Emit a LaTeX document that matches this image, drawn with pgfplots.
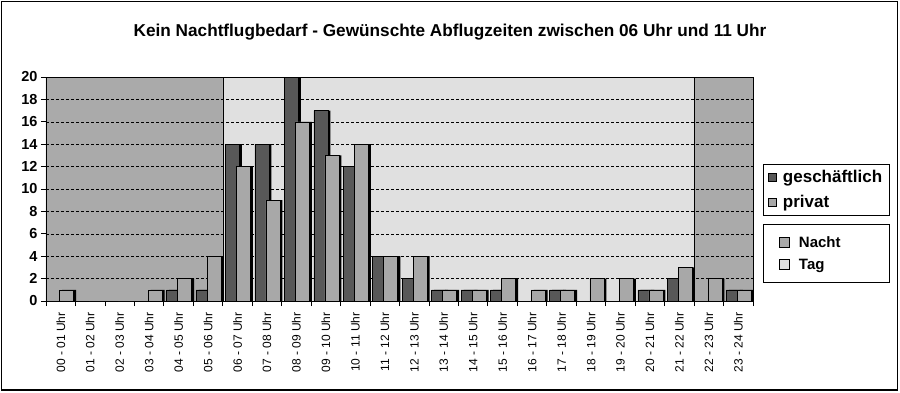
\documentclass[border=0pt]{standalone}
\usepackage{pgfplots}
\pgfplotsset{compat=1.18}
\usepackage{fontspec}
\setmainfont{Liberation Sans}
\definecolor{dbar}{RGB}{88,88,88}
\definecolor{lbar}{RGB}{168,168,168}
\definecolor{night}{RGB}{170,170,170}
\definecolor{day}{RGB}{224,224,224}
\pgfplotsset{
  base/.style={scale only axis, width=707pt, height=224pt,
    xmin=-0.5, xmax=23.5, ymin=0, ymax=20},
  sqimg/.style={legend image code/.code={\draw[##1,draw=black,line width=0.6pt] (0pt,-4pt) rectangle (8pt,4pt);}},
  sqimgb/.style={legend image code/.code={\draw[##1,draw=black,line width=0.6pt] (0pt,-5pt) rectangle (10pt,5pt);}},
}
\begin{document}
\begin{tikzpicture}[x=1pt,y=1pt]
\begin{axis}[base, hide axis,
  legend style={at={(1.0141,0.34375)}, anchor=north west, draw=black, line width=0.8pt,
    font=\bfseries\fontsize{15}{18}\selectfont, legend cell align=left,
    inner xsep=16pt, inner ysep=10pt, row sep=6pt,
    /tikz/every odd column/.append style={column sep=7pt},
    /tikz/every even column/.append style={text width=72pt}}]
\addplot[fill=night, draw=black, line width=0.5pt, sqimgb] coordinates {(-0.5,0) (-0.5,20) (5.5,20) (5.5,0)} \closedcycle;
\addlegendentry{Nacht}
\addplot[fill=day, draw=black, line width=0.5pt, sqimgb] coordinates {(5.5,0) (5.5,20) (21.5,20) (21.5,0)} \closedcycle;
\addlegendentry{Tag}
\addplot[fill=night, draw=black, line width=0.5pt, forget plot] coordinates {(21.5,0) (21.5,20) (23.5,20) (23.5,0)} \closedcycle;
\end{axis}
\begin{axis}[base, ybar, bar width=14pt,
  axis line style={black, line width=0.9pt},
  ymajorgrids, grid style={black, line width=0.5pt, dash pattern=on 3pt off 2pt},
  ytick={0,2,...,20},
  /pgf/number format/assume math mode=true,
  yticklabel style={font=\bfseries\fontsize{14.5}{16}\selectfont},
  xtick={0,...,23},
  xticklabels={00 - 01 Uhr,01 - 02 Uhr,02 - 03 Uhr,03 - 04 Uhr,04 - 05 Uhr,05 - 06 Uhr,06 - 07 Uhr,07 - 08 Uhr,08 - 09 Uhr,09 - 10 Uhr,10 - 11 Uhr,11 - 12 Uhr,12 - 13 Uhr,13 - 14 Uhr,14 - 15 Uhr,15 - 16 Uhr,16 - 17 Uhr,17 - 18 Uhr,18 - 19 Uhr,19 - 20 Uhr,20 - 21 Uhr,21 - 22 Uhr,22 - 23 Uhr,23 - 24 Uhr},
  xticklabel style={rotate=90, anchor=east, font=\fontsize{12}{14}\selectfont, xshift=-3pt},
  minor xtick={-0.5,0.5,...,23.5},
  major x tick style={draw=none},
  minor x tick style={draw=black, line width=0.8pt},
  ytick style={draw=black, line width=0.8pt},
  tick align=outside, major tick length=5pt, minor tick length=5pt,
  xtick pos=bottom, ytick pos=left,
  legend style={at={(1.0141,0.6116)}, anchor=north west, draw=black, line width=0.8pt,
    font=\bfseries\fontsize{17}{20}\selectfont, legend cell align=left,
    inner xsep=5pt, inner ysep=4pt, row sep=7pt,
    /tikz/every odd column/.append style={column sep=4pt}}]
\addplot[fill=black, draw=none, bar shift=-2.5pt, forget plot] coordinates {(0,0) (1,0) (2,0) (3,0) (4,1) (5,1) (6,14) (7,14) (8,20) (9,17) (10,12) (11,4) (12,2) (13,1) (14,1) (15,1) (16,0) (17,1) (18,0) (19,0) (20,1) (21,2) (22,0) (23,1)};
\addplot[fill=dbar, draw=black, line width=0.6pt, bar shift=-5pt, sqimg] coordinates {(0,0) (1,0) (2,0) (3,0) (4,1) (5,1) (6,14) (7,14) (8,20) (9,17) (10,12) (11,4) (12,2) (13,1) (14,1) (15,1) (16,0) (17,1) (18,0) (19,0) (20,1) (21,2) (22,0) (23,1)};
\addlegendentry{geschäftlich}
\addplot[fill=black, draw=none, bar shift=8.5pt, forget plot] coordinates {(0,1) (1,0) (2,0) (3,1) (4,2) (5,4) (6,12) (7,9) (8,16) (9,13) (10,14) (11,4) (12,4) (13,1) (14,1) (15,2) (16,1) (17,1) (18,2) (19,2) (20,1) (21,3) (22,2) (23,1)};
\addplot[fill=lbar, draw=black, line width=0.6pt, bar shift=6pt, sqimg] coordinates {(0,1) (1,0) (2,0) (3,1) (4,2) (5,4) (6,12) (7,9) (8,16) (9,13) (10,14) (11,4) (12,4) (13,1) (14,1) (15,2) (16,1) (17,1) (18,2) (19,2) (20,1) (21,3) (22,2) (23,1)};
\addlegendentry{privat}
\end{axis}
\path[use as bounding box] (-46,301) rectangle (854,-91);
\draw[line width=1.2pt] (-44.5,299.5) rectangle (851.5,-89);
\node[font=\bfseries\fontsize{17.2}{20}\selectfont] at (404,269) {Kein Nachtflugbedarf - Gewünschte Abflugzeiten zwischen 06 Uhr und 11 Uhr};
\end{tikzpicture}
\end{document}
